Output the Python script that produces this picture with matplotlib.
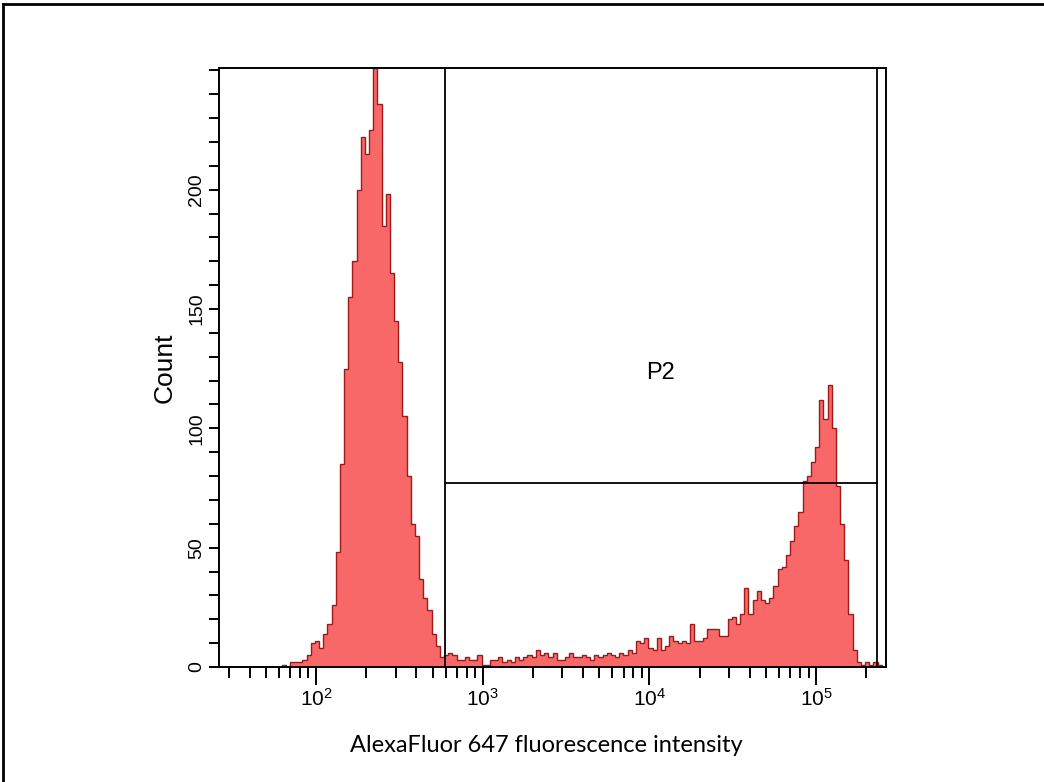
import numpy as np
import matplotlib
matplotlib.use("Agg")
import matplotlib.pyplot as plt
from matplotlib.lines import Line2D
from matplotlib.ticker import FixedLocator, NullFormatter

# ---------------- data ----------------
# histogram counts, equal-width bins in log space between x_min and x_max
counts = [
    0, 0, 0, 0, 0, 0, 0, 0, 0, 0,
    0, 0, 0, 0, 0, 1, 0, 2, 2, 2,
    3, 5, 10, 11, 8, 14, 18, 26, 48, 85,
    125, 155, 170, 200, 222, 215, 225, 251, 236, 185,
    198, 165, 145, 128, 105, 80, 60, 55, 37, 29,
    24, 14, 9, 4, 5, 6, 5, 3, 3, 4,
    3, 3, 5, 1, 1, 3, 3, 4, 2, 3,
    2, 4, 3, 4, 5, 4, 7, 5, 6, 4,
    6, 3, 3, 4, 6, 4, 4, 5, 4, 3,
    5, 4, 5, 6, 5, 4, 6, 5, 7, 6,
    11, 10, 12, 8, 7, 12, 7, 9, 13, 11,
    10, 11, 10, 18, 11, 11, 12, 16, 16, 16,
    13, 13, 20, 21, 18, 22, 33, 22, 28, 32,
    28, 27, 29, 34, 41, 42, 47, 53, 59, 65,
    78, 80, 86, 92, 112, 104, 118, 100, 76, 60,
    45, 22, 7, 2, 1, 2, 1, 2, 1, 0,
]
x_min = 26.2144
x_max = 262144.0
y_max = 251

gate_low = 594.0
gate_high = 231500.0
gate_count = 77
gate_name = "P2"
gate_label_pos = (11570.0, 123)

ytick_values = [0, 50, 100, 150, 200]
ytick_labels = ["0", "50", "100", "150", "200"]
yminor_values = list(range(0, 251, 10))
xtick_values = [1e2, 1e3, 1e4, 1e5]
xtick_labels = [r"$\mathregular{10^{2}}$", r"$\mathregular{10^{3}}$",
                r"$\mathregular{10^{4}}$", r"$\mathregular{10^{5}}$"]

x_title = "AlexaFluor 647 fluorescence intensity"
y_title = "Count"

# ---------------- style ----------------
plt.rcParams["mathtext.fontset"] = "custom"
plt.rcParams["mathtext.rm"] = "Liberation Sans Narrow"
plt.rcParams["font.family"] = ["Liberation Sans Narrow", "Liberation Sans", "DejaVu Sans"]

fill_color = "#F96868"
edge_color = "#A01818"

fig = plt.figure(figsize=(10.44, 7.82), dpi=100)
ax = fig.add_axes([219 / 1044, 1 - 667 / 782, (886 - 219) / 1044, (667 - 68) / 782])

edges = np.logspace(np.log10(x_min), np.log10(x_max), len(counts) + 1)
ax.stairs(counts, edges, fill=True, facecolor=fill_color, edgecolor="none", zorder=2)
ax.stairs(counts, edges, fill=False, color=edge_color, linewidth=1.0, zorder=3)

ax.set_xscale("log")
ax.set_xlim(x_min, x_max)
ax.set_ylim(0, y_max)

# gates
ax.axvline(gate_low, color="black", linewidth=1.3, zorder=4)
ax.axvline(gate_high, color="black", linewidth=1.3, zorder=4)
ax.plot([gate_low, gate_high], [gate_count, gate_count], color="black", linewidth=1.3, zorder=4)
ax.text(gate_label_pos[0], gate_label_pos[1], gate_name, ha="center", va="center",
        fontsize=17, family=["Liberation Sans", "DejaVu Sans"], zorder=5)

# ticks
xminor = []
for d in range(1, 6):
    for k in range(2, 10):
        v = k * 10 ** d
        if x_min < v < x_max:
            xminor.append(v)
ax.xaxis.set_major_locator(FixedLocator(xtick_values))
ax.xaxis.set_minor_locator(FixedLocator(xminor))
ax.xaxis.set_minor_formatter(NullFormatter())
ax.set_xticklabels(xtick_labels, fontsize=15)
ax.yaxis.set_major_locator(FixedLocator(ytick_values))
ax.yaxis.set_minor_locator(FixedLocator(yminor_values))
ax.set_yticklabels(ytick_labels, rotation=90, va="center", fontsize=14)

ax.tick_params(axis="x", which="major", direction="out", length=13, width=1.4, pad=2)
ax.tick_params(axis="x", which="minor", direction="out", length=8, width=1.4)
ax.tick_params(axis="y", which="both", direction="out", length=7, width=1.4, pad=3)

for s in ax.spines.values():
    s.set_linewidth(1.4)
    s.set_zorder(6)

fig.text(165 / 1044, 1 - 368 / 782, y_title, rotation=90, ha="center", va="center",
         fontsize=19, family=["Liberation Sans", "DejaVu Sans"])
fig.text(546 / 1044, 1 - 745 / 782, x_title, ha="center", va="center",
         fontsize=17, family=["Lato", "DejaVu Sans"])

# figure frame (top and left visible)
fig.add_artist(Line2D([3 / 1044, 1], [1 - 4 / 782, 1 - 4 / 782], transform=fig.transFigure,
                      color="black", linewidth=2))
fig.add_artist(Line2D([3 / 1044, 3 / 1044], [0, 1 - 4 / 782], transform=fig.transFigure,
                      color="black", linewidth=2))

fig.savefig("out.png", dpi=100)
